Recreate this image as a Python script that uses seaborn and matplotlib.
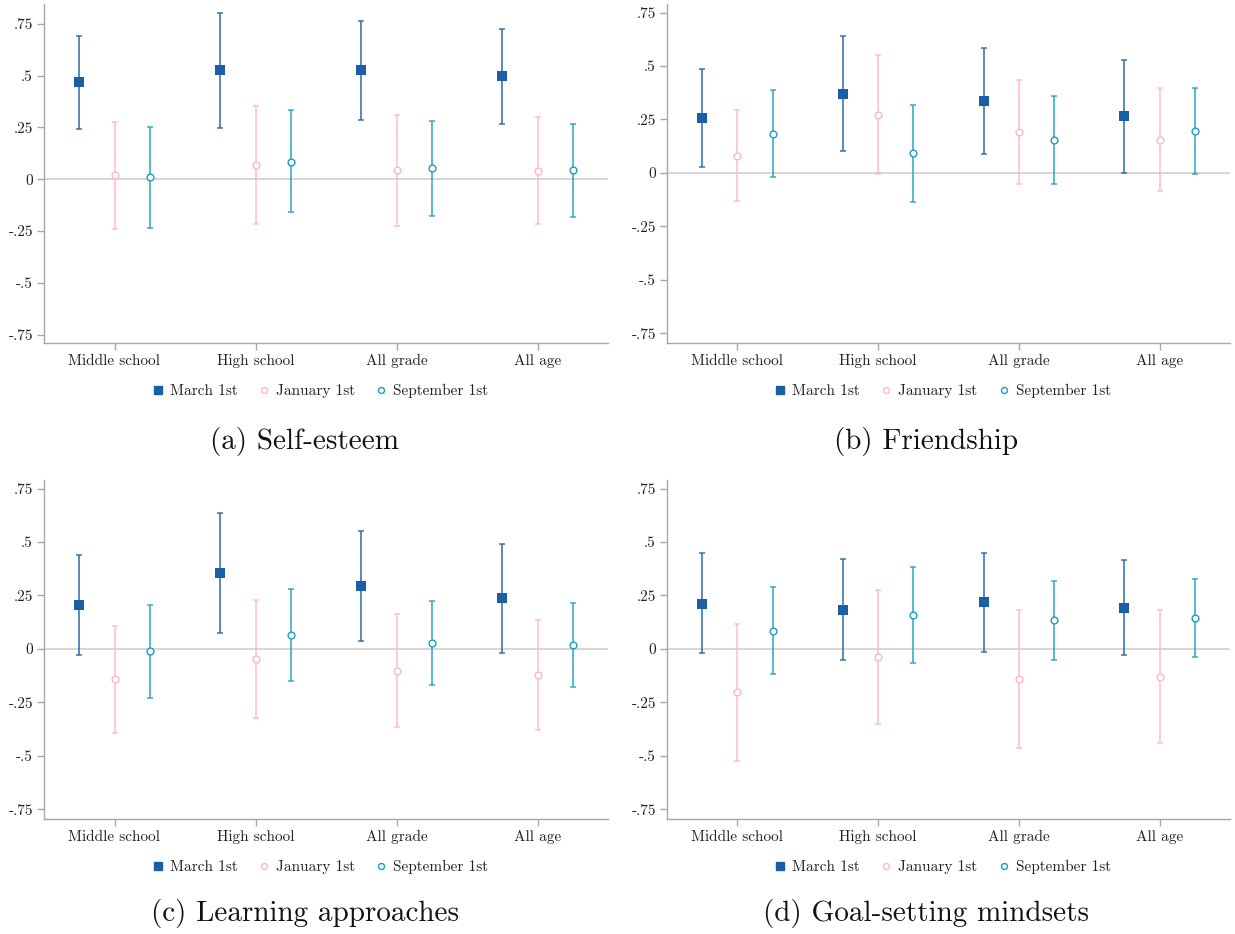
import numpy as np
import pandas as pd
import matplotlib
matplotlib.use("Agg")
import matplotlib.pyplot as plt
from matplotlib.lines import Line2D
import seaborn as sns

# ---- data -------------------------------------------------------------
groups = ["Middle school", "High school", "All grade", "All age"]
series = ["March 1st", "January 1st", "September 1st"]

panels = ["(a) Self-esteem", "(b) Friendship",
          "(c) Learning approaches", "(d) Goal-setting mindsets"]

# point estimates, lower and upper CI bounds per panel and series
self_esteem_est = {
    "March 1st":     [0.467, 0.525, 0.525, 0.496],
    "January 1st":   [0.019, 0.069, 0.043, 0.040],
    "September 1st": [0.010, 0.085, 0.052, 0.042],
}
self_esteem_lo = {
    "March 1st":     [0.242, 0.246, 0.284, 0.267],
    "January 1st":   [-0.240, -0.216, -0.227, -0.216],
    "September 1st": [-0.235, -0.159, -0.177, -0.184],
}
self_esteem_hi = {
    "March 1st":     [0.689, 0.802, 0.765, 0.725],
    "January 1st":   [0.274, 0.353, 0.311, 0.298],
    "September 1st": [0.253, 0.332, 0.279, 0.266],
}

friendship_est = {
    "March 1st":     [0.256, 0.369, 0.338, 0.267],
    "January 1st":   [0.080, 0.272, 0.190, 0.156],
    "September 1st": [0.184, 0.092, 0.155, 0.195],
}
friendship_lo = {
    "March 1st":     [0.026, 0.105, 0.089, 0.001],
    "January 1st":   [-0.133, -0.005, -0.050, -0.083],
    "September 1st": [-0.019, -0.135, -0.053, -0.005],
}
friendship_hi = {
    "March 1st":     [0.486, 0.639, 0.586, 0.528],
    "January 1st":   [0.294, 0.550, 0.434, 0.397],
    "September 1st": [0.389, 0.320, 0.362, 0.397],
}

learning_est = {
    "March 1st":     [0.206, 0.355, 0.294, 0.238],
    "January 1st":   [-0.142, -0.047, -0.101, -0.120],
    "September 1st": [-0.008, 0.064, 0.026, 0.020],
}
learning_lo = {
    "March 1st":     [-0.030, 0.073, 0.036, -0.017],
    "January 1st":   [-0.393, -0.321, -0.366, -0.377],
    "September 1st": [-0.227, -0.150, -0.170, -0.178],
}
learning_hi = {
    "March 1st":     [0.441, 0.636, 0.551, 0.491],
    "January 1st":   [0.109, 0.227, 0.162, 0.136],
    "September 1st": [0.207, 0.279, 0.223, 0.215],
}

goal_est = {
    "March 1st":     [0.210, 0.182, 0.220, 0.192],
    "January 1st":   [-0.203, -0.037, -0.139, -0.129],
    "September 1st": [0.086, 0.159, 0.134, 0.143],
}
goal_lo = {
    "March 1st":     [-0.020, -0.053, -0.014, -0.028],
    "January 1st":   [-0.523, -0.349, -0.461, -0.441],
    "September 1st": [-0.117, -0.067, -0.051, -0.037],
}
goal_hi = {
    "March 1st":     [0.447, 0.419, 0.450, 0.414],
    "January 1st":   [0.115, 0.274, 0.184, 0.181],
    "September 1st": [0.288, 0.383, 0.319, 0.326],
}

ytick_vals = [-0.75, -0.5, -0.25, 0, 0.25, 0.5, 0.75]
ytick_labels = ["-.75", "-.5", "-.25", "0", ".25", ".5", ".75"]

# ---- style ------------------------------------------------------------
colors = {"March 1st": "#1a5ea6", "January 1st": "#ffb6c4", "September 1st": "#1a9ebf"}
offsets = {"March 1st": -0.25, "January 1st": 0.0, "September 1st": 0.25}

sns.set_theme(style="white")
plt.rcParams["font.family"] = ["cmr10", "DejaVu Serif"]
plt.rcParams["mathtext.fontset"] = "cm"
plt.rcParams["axes.unicode_minus"] = False

W, H = 1235, 934
fig = plt.figure(figsize=(W / 100, H / 100), dpi=100)

panel_data = [
    (self_esteem_est, self_esteem_lo, self_esteem_hi, (-0.79, 0.845)),
    (friendship_est, friendship_lo, friendship_hi, (-0.795, 0.79)),
    (learning_est, learning_lo, learning_hi, (-0.795, 0.79)),
    (goal_est, goal_lo, goal_hi, (-0.795, 0.79)),
]

# axes boxes in pixels: (left, right, top, bottom)
boxes = [(44, 608, 4, 343), (667, 1230, 4, 343),
         (44, 608, 480, 819), (667, 1230, 480, 819)]
legend_y = [391, 391, 867, 867]
caption_xy = [(305, 442), (926, 442), (305, 914), (926, 914)]

grey = "#a8a8a8"

for i, (est, lo, hi, ylim) in enumerate(panel_data):
    l, r, t, b = boxes[i]
    ax = fig.add_axes([l / W, 1 - b / H, (r - l) / W, (b - t) / H])

    ax.axhline(0, color="#cccccc", lw=1.1, zorder=1)

    for s in series:
        xs = np.arange(len(groups)) + offsets[s]
        e = np.array(est[s])
        lower = e - np.array(lo[s])
        upper = np.array(hi[s]) - e
        ax.errorbar(xs, e, yerr=[lower, upper], fmt="none",
                    ecolor=colors[s], elinewidth=1.2, capsize=2.4,
                    capthick=1.1, alpha=0.85, zorder=2)
        df = pd.DataFrame({"x": xs, "y": e})
        if s == "March 1st":
            sns.scatterplot(data=df, x="x", y="y", ax=ax, marker="s",
                            color=colors[s], s=60, linewidth=0, zorder=3,
                            legend=False)
        else:
            sns.scatterplot(data=df, x="x", y="y", ax=ax, marker="o",
                            s=24, linewidth=1.0, zorder=3, legend=False,
                            color=colors[s])
            ax.collections[-1].set_facecolor("white")
            ax.collections[-1].set_edgecolor(colors[s])

    ax.set_xlim(-0.5, 3.5)
    ax.set_ylim(*ylim)
    ax.set_xticks(range(len(groups)))
    ax.set_xticklabels(groups, fontsize=11)
    ax.set_yticks(ytick_vals)
    ax.set_yticklabels(ytick_labels, fontsize=11)
    ax.set_xlabel("")
    ax.set_ylabel("")
    for side in ["top", "right"]:
        ax.spines[side].set_visible(False)
    for side in ["left", "bottom"]:
        ax.spines[side].set_color(grey)
        ax.spines[side].set_linewidth(1.0)
    ax.tick_params(axis="both", which="major", length=5, width=1.0,
                   color=grey, labelcolor="#222222", direction="out",
                   left=True, bottom=True, pad=3)
    ax.grid(False)

    handles = [
        Line2D([], [], ls="none", marker="s", ms=5.5, color=colors["March 1st"],
               mec=colors["March 1st"]),
        Line2D([], [], ls="none", marker="o", ms=4.3, mfc="white",
               mec=colors["January 1st"], mew=1.0),
        Line2D([], [], ls="none", marker="o", ms=4.3, mfc="white",
               mec=colors["September 1st"], mew=1.0),
    ]
    cx = (l + r) / 2 - 6
    leg = fig.legend(handles, series, loc="center",
                     bbox_to_anchor=(cx / W, 1 - legend_y[i] / H),
                     ncol=3, frameon=False, fontsize=11,
                     handlelength=0.8, handletextpad=0.4, columnspacing=1.3)
    for txt in leg.get_texts():
        txt.set_color("#222222")

    cxp, cyp = caption_xy[i]
    fig.text(cxp / W, 1 - cyp / H, panels[i], ha="center", va="center",
             fontsize=21, color="#111111")

fig.savefig("out.png", dpi=100, facecolor="white")
